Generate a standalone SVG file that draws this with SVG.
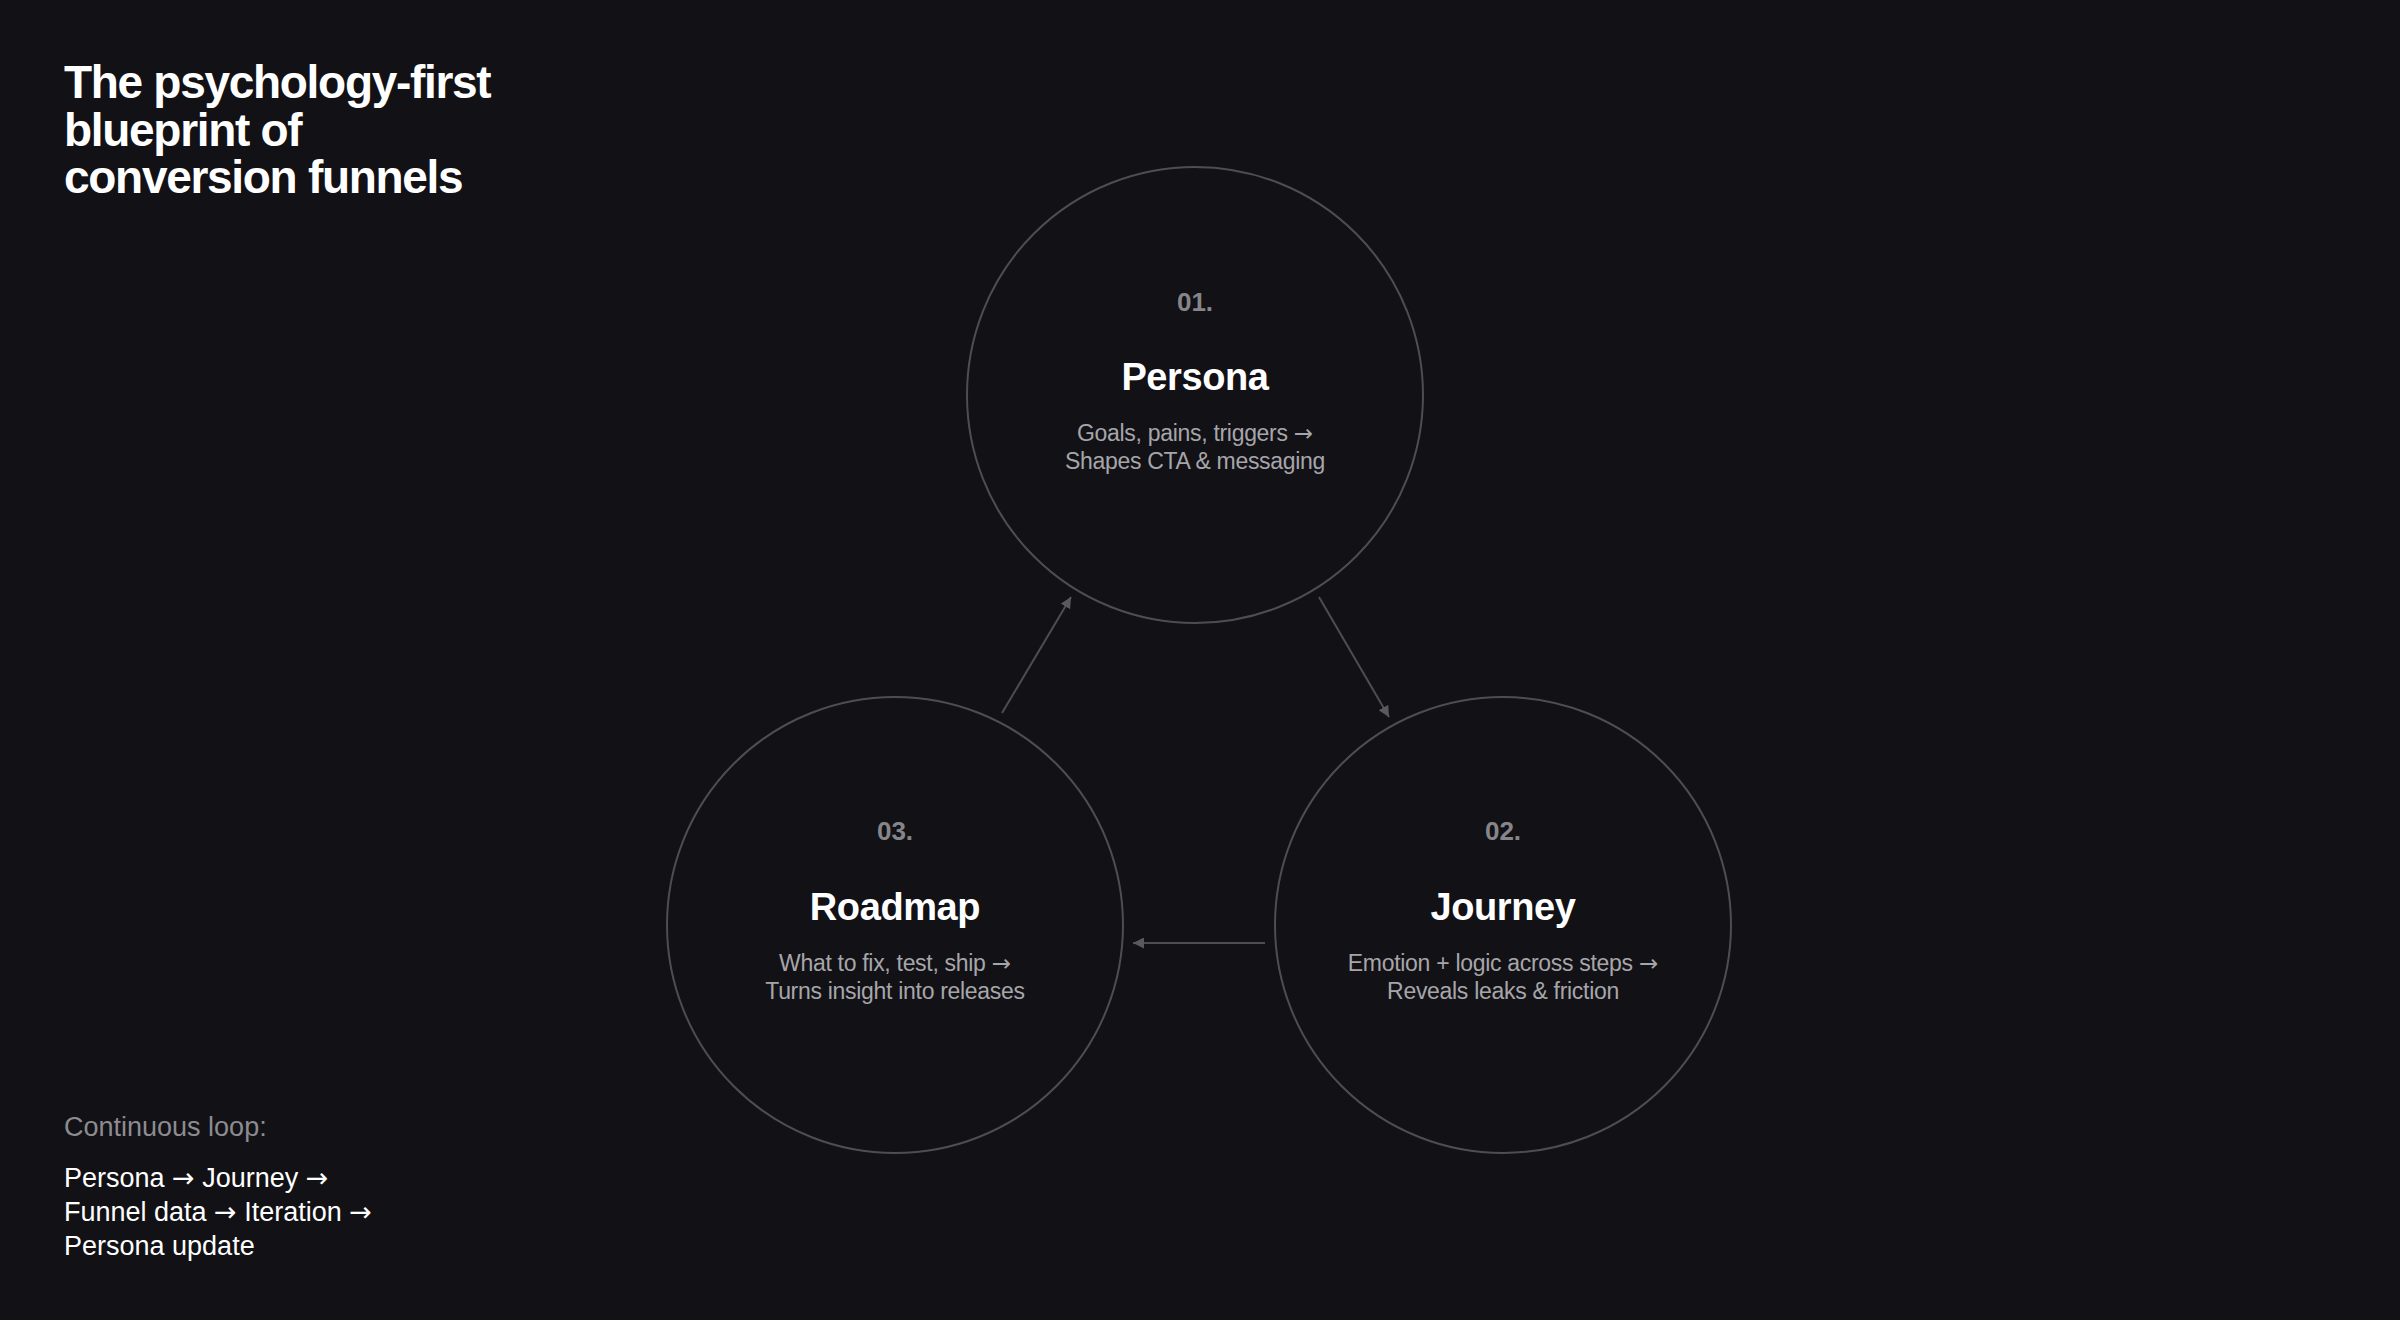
<svg xmlns="http://www.w3.org/2000/svg" width="2400" height="1320" viewBox="0 0 2400 1320">
  <defs>
    <marker id="arrow" viewBox="0 0 10 10" refX="10" refY="5" markerWidth="11" markerHeight="11" markerUnits="userSpaceOnUse" orient="auto">
      <path d="M0,0 L10,5 L0,10 z" fill="#5a5a5e"/>
    </marker>
    <style>
      .bg { fill: #121116; }
      .ring { fill: #121116; stroke: #4e4e52; stroke-width: 2; }
      .num { font-family: "Liberation Sans", Arial, sans-serif; font-weight: 700; font-size: 26px; fill: #86868a; text-anchor: middle; }
      .name { font-family: "Liberation Sans", Arial, sans-serif; font-weight: 700; font-size: 38px; fill: #ffffff; text-anchor: middle; letter-spacing: -0.4px; }
      .sub { font-family: "Liberation Sans", Arial, sans-serif; font-size: 23px; fill: #a6a6aa; text-anchor: middle; letter-spacing: -0.3px; }
      .title { font-family: "Liberation Sans", Arial, sans-serif; font-weight: 700; font-size: 46px; fill: #ffffff; letter-spacing: -1.3px; }
      .loopHead { font-family: "Liberation Sans", Arial, sans-serif; font-size: 27px; fill: #8c8c90; letter-spacing: 0; }
      .loop { font-family: "Liberation Sans", Arial, sans-serif; font-size: 27px; fill: #ffffff; letter-spacing: 0; }
      .ar { font-family: Roboto, "DejaVu Sans", sans-serif; font-weight: 400; letter-spacing: 0; }
      .conn { stroke: #4e4e52; stroke-width: 2; fill: none; marker-end: url(#arrow); }
    </style>
  </defs>

  <rect class="bg" x="0" y="0" width="2400" height="1320"/>

  <g id="title">
    <text class="title" x="64" y="98">The psychology-first</text>
    <text class="title" x="64" y="146">blueprint of</text>
    <text class="title" x="64" y="193">conversion funnels</text>
  </g>

  <g id="connectors">
    <line class="conn" x1="1002" y1="713" x2="1071" y2="597"/>
    <line class="conn" x1="1319" y1="597" x2="1389" y2="717"/>
    <line class="conn" x1="1265" y1="943" x2="1133" y2="943"/>
  </g>

  <g id="node-persona">
    <circle class="ring" cx="1195" cy="395" r="228"/>
    <text class="num" x="1195" y="311">01.</text>
    <text class="name" x="1195" y="390">Persona</text>
    <text class="sub" x="1195" y="441">Goals, pains, triggers <tspan class="ar">→</tspan></text>
    <text class="sub" x="1195" y="469">Shapes CTA &amp; messaging</text>
  </g>

  <g id="node-journey">
    <circle class="ring" cx="1503" cy="925" r="228"/>
    <text class="num" x="1503" y="840">02.</text>
    <text class="name" x="1503" y="920">Journey</text>
    <text class="sub" x="1503" y="971">Emotion + logic across steps <tspan class="ar">→</tspan></text>
    <text class="sub" x="1503" y="999">Reveals leaks &amp; friction</text>
  </g>

  <g id="node-roadmap">
    <circle class="ring" cx="895" cy="925" r="228"/>
    <text class="num" x="895" y="840">03.</text>
    <text class="name" x="895" y="920">Roadmap</text>
    <text class="sub" x="895" y="971">What to fix, test, ship <tspan class="ar">→</tspan></text>
    <text class="sub" x="895" y="999">Turns insight into releases</text>
  </g>

  <g id="loop-note">
    <text class="loopHead" x="64" y="1136">Continuous loop:</text>
    <text class="loop" x="64" y="1187">Persona <tspan class="ar">→</tspan> Journey <tspan class="ar">→</tspan></text>
    <text class="loop" x="64" y="1221">Funnel data <tspan class="ar">→</tspan> Iteration <tspan class="ar">→</tspan></text>
    <text class="loop" x="64" y="1255">Persona update</text>
  </g>
</svg>
